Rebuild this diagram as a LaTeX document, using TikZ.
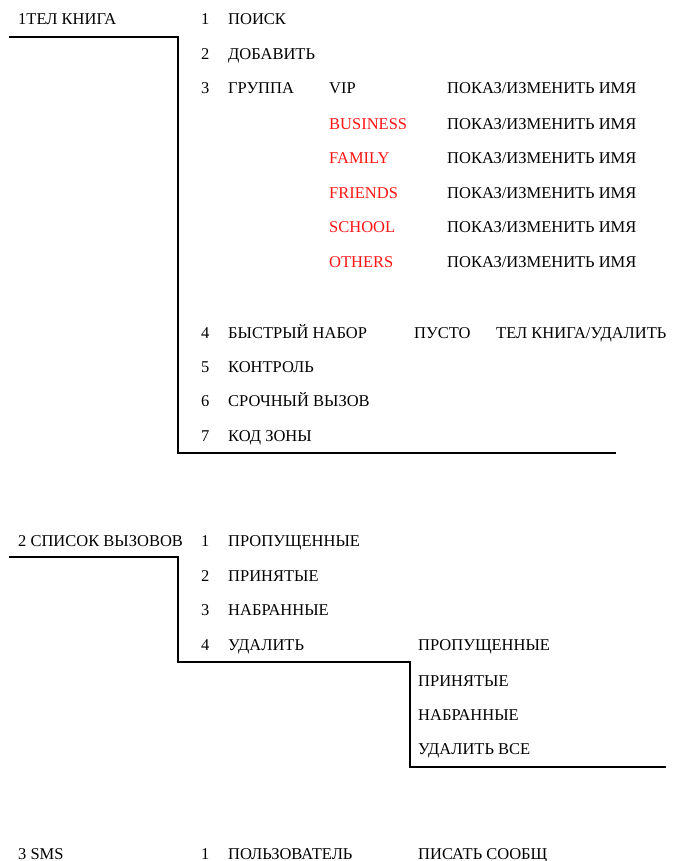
\documentclass[tikz,border=0pt]{standalone}
\usepackage{fontspec}
\setmainfont{Liberation Serif}
\begin{document}
\begin{tikzpicture}[x=1pt,y=-1pt,
  lbl/.style={anchor=base west,inner sep=0pt,font=\fontsize{16.5}{18}\selectfont},
  redlbl/.style={lbl,text={rgb,255:red,255;green,20;blue,20}},
  bracket/.style={line width=2pt,line cap=rect}]
\useasboundingbox (0,0) rectangle (673,861);
% section 1
\node[lbl] (s1) at (18,25) {1ТЕЛ КНИГА};
\foreach \n/\t/\y in {1/ПОИСК/25, 2/ДОБАВИТЬ/60, 3/ГРУППА/94, 4/БЫСТРЫЙ НАБОР/338, 5/КОНТРОЛЬ/372, 6/СРОЧНЫЙ ВЫЗОВ/406, 7/КОД ЗОНЫ/441}{
  \node[lbl] (n1\n) at (201,\y) {\n};
  \node[lbl] (t1\n) at (228,\y) {\t};
}
\node[lbl] (vip) at (329,94) {VIP};
\node[redlbl] (bus) at (329,130) {BUSINESS};
\node[redlbl] (fam) at (329,164) {FAMILY};
\node[redlbl] (fri) at (329,198) {FRIENDS};
\node[redlbl] (sch) at (329,232) {SCHOOL};
\node[redlbl] (oth) at (329,267) {OTHERS};
\foreach \k/\y in {a/94,b/130,c/164,d/198,e/232,f/267}{
  \node[lbl] (p\k) at (447,\y) {ПОКАЗ/ИЗМЕНИТЬ ИМЯ};
}
\node[lbl] (empty) at (414,338) {ПУСТО};
\node[lbl] (tdel) at (496,338) {ТЕЛ КНИГА/УДАЛИТЬ};
\draw[bracket] (10,37) -- (178,37) -- (178,453) -- (615,453);
% section 2
\node[lbl] (s2) at (18,546) {2 СПИСОК ВЫЗОВОВ};
\foreach \n/\t/\y in {1/ПРОПУЩЕННЫЕ/546, 2/ПРИНЯТЫЕ/581, 3/НАБРАННЫЕ/615, 4/УДАЛИТЬ/650}{
  \node[lbl] (n2\n) at (201,\y) {\n};
  \node[lbl] (t2\n) at (228,\y) {\t};
}
\foreach \k/\t/\y in {a/ПРОПУЩЕННЫЕ/650, b/ПРИНЯТЫЕ/686, c/НАБРАННЫЕ/720, d/УДАЛИТЬ ВСЕ/754}{
  \node[lbl] (d\k) at (418,\y) {\t};
}
\draw[bracket] (10,557) -- (178,557) -- (178,662) -- (410,662) -- (410,767) -- (665,767);
% section 3
\node[lbl] (s3) at (18,859) {3 SMS};
\node[lbl] (n31) at (201,859) {1};
\node[lbl] (t31) at (228,859) {ПОЛЬЗОВАТЕЛЬ};
\node[lbl] (msg) at (418,859) {ПИСАТЬ СООБЩ};
\end{tikzpicture}
\end{document}
